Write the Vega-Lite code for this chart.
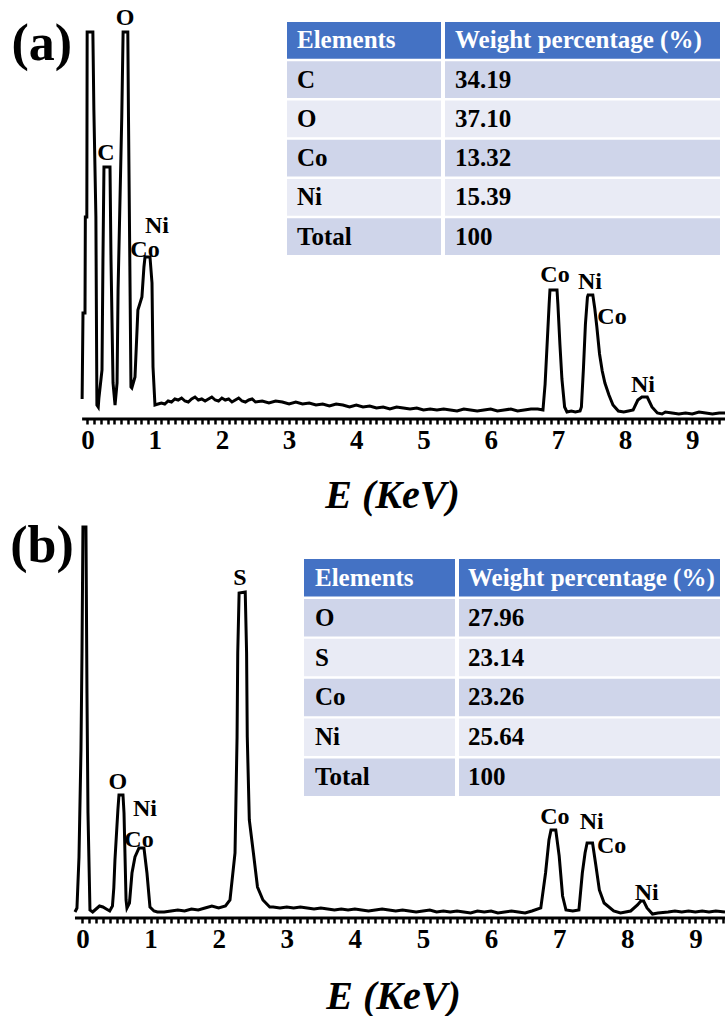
{
"$schema": "https://vega.github.io/schema/vega-lite/v6.json",
"background": "white",
"padding": 0,
"spacing": 3,
"config": {"view": {"stroke": null}, "font": "Liberation Serif"},
"datasets": {
"specA": [{"E":-0.08,"I":20},{"E":-0.067,"I":106},{"E":-0.037,"I":106},{"E":-0.032,"I":202},{"E":-0.01,"I":202},{"E":-0.005,"I":387},{"E":0.08,"I":387},{"E":0.095,"I":309},{"E":0.125,"I":202},{"E":0.14,"I":14},{"E":0.16,"I":12},{"E":0.17,"I":21},{"E":0.216,"I":49},{"E":0.23,"I":159},{"E":0.245,"I":252},{"E":0.335,"I":252},{"E":0.35,"I":159},{"E":0.38,"I":36},{"E":0.41,"I":14},{"E":0.44,"I":36},{"E":0.455,"I":129},{"E":0.51,"I":302},{"E":0.53,"I":387},{"E":0.6,"I":387},{"E":0.61,"I":302},{"E":0.647,"I":32},{"E":0.66,"I":31},{"E":0.707,"I":42},{"E":0.75,"I":109},{"E":0.81,"I":122},{"E":0.84,"I":152},{"E":0.856,"I":162},{"E":0.93,"I":162},{"E":0.96,"I":136},{"E":0.975,"I":52},{"E":1.004,"I":14},{"E":1.05,"I":15},{"E":1.1,"I":16},{"E":1.15,"I":15},{"E":1.2,"I":18},{"E":1.25,"I":17},{"E":1.3,"I":20},{"E":1.35,"I":19},{"E":1.4,"I":21},{"E":1.45,"I":18},{"E":1.5,"I":17},{"E":1.55,"I":20},{"E":1.6,"I":22},{"E":1.65,"I":19},{"E":1.7,"I":20},{"E":1.75,"I":18},{"E":1.8,"I":20},{"E":1.85,"I":22},{"E":1.9,"I":19},{"E":1.95,"I":18},{"E":2.0,"I":21},{"E":2.05,"I":19},{"E":2.1,"I":20},{"E":2.15,"I":17},{"E":2.2,"I":19},{"E":2.25,"I":21},{"E":2.3,"I":18},{"E":2.35,"I":17},{"E":2.4,"I":19},{"E":2.45,"I":20},{"E":2.5,"I":17},{"E":2.6,"I":18},{"E":2.7,"I":16},{"E":2.8,"I":18},{"E":2.9,"I":17},{"E":3.0,"I":15},{"E":3.1,"I":17},{"E":3.2,"I":15},{"E":3.3,"I":16},{"E":3.4,"I":14},{"E":3.5,"I":15},{"E":3.6,"I":13},{"E":3.7,"I":15},{"E":3.8,"I":14},{"E":3.9,"I":12},{"E":4.0,"I":14},{"E":4.1,"I":12},{"E":4.2,"I":13},{"E":4.3,"I":11},{"E":4.4,"I":12},{"E":4.5,"I":10},{"E":4.6,"I":12},{"E":4.7,"I":11},{"E":4.8,"I":10},{"E":4.9,"I":11},{"E":5.0,"I":9},{"E":5.1,"I":10},{"E":5.2,"I":9},{"E":5.3,"I":10},{"E":5.4,"I":9},{"E":5.5,"I":8},{"E":5.6,"I":10},{"E":5.7,"I":9},{"E":5.8,"I":8},{"E":5.9,"I":9},{"E":6.0,"I":10},{"E":6.1,"I":8},{"E":6.2,"I":9},{"E":6.3,"I":10},{"E":6.4,"I":8},{"E":6.5,"I":9},{"E":6.6,"I":10},{"E":6.7,"I":10},{"E":6.778,"I":9},{"E":6.81,"I":35},{"E":6.84,"I":75},{"E":6.87,"I":115},{"E":6.882,"I":129},{"E":6.987,"I":129},{"E":7.0,"I":115},{"E":7.03,"I":75},{"E":7.06,"I":40},{"E":7.1,"I":12},{"E":7.135,"I":7},{"E":7.2,"I":8},{"E":7.26,"I":7},{"E":7.33,"I":8},{"E":7.35,"I":12},{"E":7.38,"I":50},{"E":7.41,"I":95},{"E":7.44,"I":122},{"E":7.45,"I":124},{"E":7.52,"I":124},{"E":7.55,"I":110},{"E":7.58,"I":92},{"E":7.62,"I":65},{"E":7.66,"I":48},{"E":7.7,"I":36},{"E":7.76,"I":24},{"E":7.82,"I":14},{"E":7.9,"I":8},{"E":7.98,"I":7},{"E":8.05,"I":8},{"E":8.12,"I":9},{"E":8.19,"I":19},{"E":8.25,"I":22},{"E":8.33,"I":22},{"E":8.4,"I":12},{"E":8.48,"I":6},{"E":8.55,"I":5},{"E":8.6,"I":7},{"E":8.7,"I":6},{"E":8.8,"I":5},{"E":8.9,"I":6},{"E":9.0,"I":5},{"E":9.1,"I":7},{"E":9.2,"I":6},{"E":9.3,"I":5},{"E":9.4,"I":6},{"E":9.487,"I":6}],
"specB": [{"E":-0.11,"I":6},{"E":-0.081,"I":10},{"E":-0.051,"I":61},{"E":-0.022,"I":168},{"E":-0.007,"I":265},{"E":0.007,"I":391},{"E":0.051,"I":391},{"E":0.066,"I":225},{"E":0.081,"I":105},{"E":0.11,"I":8},{"E":0.15,"I":6},{"E":0.2,"I":9},{"E":0.25,"I":12},{"E":0.3,"I":11},{"E":0.35,"I":9},{"E":0.4,"I":7},{"E":0.44,"I":12},{"E":0.46,"I":30},{"E":0.477,"I":58},{"E":0.52,"I":108},{"E":0.536,"I":123},{"E":0.595,"I":123},{"E":0.61,"I":105},{"E":0.64,"I":18},{"E":0.653,"I":10},{"E":0.69,"I":15},{"E":0.727,"I":45},{"E":0.771,"I":61},{"E":0.83,"I":70},{"E":0.903,"I":70},{"E":0.947,"I":45},{"E":0.991,"I":11},{"E":1.05,"I":7},{"E":1.1,"I":6},{"E":1.2,"I":6},{"E":1.3,"I":7},{"E":1.4,"I":8},{"E":1.5,"I":7},{"E":1.6,"I":9},{"E":1.7,"I":8},{"E":1.8,"I":10},{"E":1.9,"I":12},{"E":2.0,"I":10},{"E":2.1,"I":12},{"E":2.166,"I":18},{"E":2.24,"I":65},{"E":2.27,"I":181},{"E":2.28,"I":265},{"E":2.3,"I":325},{"E":2.39,"I":326},{"E":2.41,"I":265},{"E":2.42,"I":181},{"E":2.45,"I":98},{"E":2.51,"I":65},{"E":2.57,"I":31},{"E":2.65,"I":18},{"E":2.75,"I":11},{"E":2.8,"I":11},{"E":2.9,"I":10},{"E":3.0,"I":11},{"E":3.1,"I":10},{"E":3.2,"I":11},{"E":3.3,"I":10},{"E":3.4,"I":9},{"E":3.5,"I":10},{"E":3.6,"I":9},{"E":3.7,"I":8},{"E":3.8,"I":9},{"E":3.9,"I":8},{"E":4.0,"I":9},{"E":4.1,"I":8},{"E":4.2,"I":7},{"E":4.3,"I":8},{"E":4.4,"I":9},{"E":4.5,"I":8},{"E":4.6,"I":7},{"E":4.7,"I":8},{"E":4.8,"I":7},{"E":4.9,"I":6},{"E":5.0,"I":7},{"E":5.1,"I":8},{"E":5.2,"I":6},{"E":5.3,"I":7},{"E":5.4,"I":6},{"E":5.5,"I":7},{"E":5.6,"I":6},{"E":5.7,"I":5},{"E":5.8,"I":7},{"E":5.9,"I":6},{"E":6.0,"I":7},{"E":6.1,"I":5},{"E":6.2,"I":6},{"E":6.3,"I":7},{"E":6.4,"I":6},{"E":6.5,"I":5},{"E":6.6,"I":7},{"E":6.73,"I":10},{"E":6.8,"I":45},{"E":6.85,"I":78},{"E":6.88,"I":88},{"E":6.95,"I":88},{"E":7.0,"I":62},{"E":7.05,"I":22},{"E":7.1,"I":8},{"E":7.2,"I":7},{"E":7.29,"I":8},{"E":7.34,"I":45},{"E":7.38,"I":65},{"E":7.41,"I":75},{"E":7.49,"I":75},{"E":7.54,"I":52},{"E":7.59,"I":28},{"E":7.66,"I":15},{"E":7.8,"I":7},{"E":7.9,"I":5},{"E":8.05,"I":7},{"E":8.15,"I":13},{"E":8.2,"I":17},{"E":8.24,"I":17},{"E":8.29,"I":10},{"E":8.37,"I":4},{"E":8.45,"I":5},{"E":8.6,"I":6},{"E":8.7,"I":7},{"E":8.8,"I":6},{"E":8.9,"I":7},{"E":9.0,"I":6},{"E":9.1,"I":7},{"E":9.2,"I":6},{"E":9.3,"I":7},{"E":9.435,"I":6}],
"labelsA": [{"E":0.558,"I":401,"label":"O"},{"E":0.275,"I":266,"label":"C"},{"E":1.034,"I":193,"label":"Ni"},{"E":0.856,"I":169,"label":"Co"},{"E":6.957,"I":144,"label":"Co"},{"E":7.478,"I":137,"label":"Ni"},{"E":7.805,"I":102,"label":"Co"},{"E":8.266,"I":34,"label":"Ni"}],
"labelsB": [{"E":2.313,"I":340,"label":"S"},{"E":0.521,"I":136,"label":"O"},{"E":0.918,"I":109,"label":"Ni"},{"E":0.83,"I":78,"label":"Co"},{"E":6.938,"I":101,"label":"Co"},{"E":7.477,"I":96,"label":"Ni"},{"E":7.77,"I":72,"label":"Co"},{"E":8.285,"I":25,"label":"Ni"}],
"tableA": [{"el":"Elements","wt":"Weight percentage (%)"},{"el":"C","wt":"34.19"},{"el":"O","wt":"37.10"},{"el":"Co","wt":"13.32"},{"el":"Ni","wt":"15.39"},{"el":"Total","wt":"100"}],
"tableB": [{"el":"Elements","wt":"Weight percentage (%)"},{"el":"O","wt":"27.96"},{"el":"S","wt":"23.14"},{"el":"Co","wt":"23.26"},{"el":"Ni","wt":"25.64"},{"el":"Total","wt":"100"}]
},
"vconcat": [
{
"width": 725, "height": 419,
"resolve": {"scale": {"x": "independent", "y": "independent", "color": "independent"}},
"layer": [
{"data": {"name": "specA"}, "mark": {"type": "line", "color": "black", "strokeWidth": 3},
 "encoding": {
  "x": {"field": "E", "type": "quantitative", "scale": {"domain": [-1.302, 9.487], "nice": false, "zero": false},
   "axis": {"orient": "bottom", "values": [0,0.1,0.2,0.3,0.4,0.5,0.6,0.7,0.8,0.9,1,1.1,1.2,1.3,1.4,1.5,1.6,1.7,1.8,1.9,2,2.1,2.2,2.3,2.4,2.5,2.6,2.7,2.8,2.9,3,3.1,3.2,3.3,3.4,3.5,3.6,3.7,3.8,3.9,4,4.1,4.2,4.3,4.4,4.5,4.6,4.7,4.8,4.9,5,5.1,5.2,5.3,5.4,5.5,5.6,5.7,5.8,5.9,6,6.1,6.2,6.3,6.4,6.5,6.6,6.7,6.8,6.9,7,7.1,7.2,7.3,7.4,7.5,7.6,7.7,7.8,7.9,8,8.1,8.2,8.3,8.4,8.5,8.6,8.7,8.8,8.9,9,9.1,9.2,9.3,9.4],
    "domain": false, "grid": false, "ticks": true, "tickSize": 5, "tickWidth": 2.5, "tickColor": "black",
    "labelExpr": "abs(datum.value - round(datum.value)) < 0.001 ? format(datum.value, 'd') : ''",
    "labelFont": "Liberation Serif", "labelFontSize": 27, "labelFontWeight": "bold", "labelColor": "black", "labelPadding": 3, "labelFlush": false, "labelOverlap": false, "labelBound": false,
    "title": "E (KeV)", "titleFont": "Liberation Serif", "titleFontSize": 40, "titleFontStyle": "italic", "titleFontWeight": "bold", "titleColor": "black", "titleX": 392, "titleY": 76, "titleBaseline": "middle", "titleAlign": "center"}},
  "y": {"field": "I", "type": "quantitative", "scale": {"domain": [0, 419], "nice": false, "zero": false}, "axis": null}
 }},
{"data": {"values": [{}]}, "mark": {"type": "rule", "color": "black", "strokeWidth": 3},
 "encoding": {"x": {"datum": -0.08, "type": "quantitative", "scale": {"domain": [-1.302, 9.487], "nice": false, "zero": false}, "axis": null}, "x2": {"datum": 9.487}, "y": {"datum": 0, "type": "quantitative", "scale": {"domain": [0, 419], "nice": false, "zero": false}, "axis": null}}},
{"data": {"name": "labelsA"}, "mark": {"type": "text", "fontSize": 24, "fontWeight": "bold", "font": "Liberation Serif", "color": "black", "baseline": "middle"},
 "encoding": {"x": {"field": "E", "type": "quantitative", "scale": {"domain": [-1.302, 9.487], "nice": false, "zero": false}, "axis": null}, "y": {"field": "I", "type": "quantitative", "scale": {"domain": [0, 419], "nice": false, "zero": false}, "axis": null}, "text": {"field": "label"}}},
{"data": {"values": [{}]}, "mark": {"type": "text", "text": "(a)", "fontSize": 52, "fontWeight": "bold", "font": "Liberation Serif", "color": "black", "baseline": "middle"},
 "encoding": {"x": {"datum": -0.68, "type": "quantitative", "scale": {"domain": [-1.302, 9.487], "nice": false, "zero": false}, "axis": null}, "y": {"datum": 375, "type": "quantitative", "scale": {"domain": [0, 419], "nice": false, "zero": false}, "axis": null}}},
{
"data": {"name": "tableA"},
"encoding": {"y": {"field": "el", "type": "nominal", "sort": null, "scale": {"type": "band", "domain": ["Elements","C","O","Co","Ni","Total"], "range": [22, 255], "paddingInner": 0.06, "paddingOuter": 0}, "axis": null}},
"layer": [
{"mark": {"type": "rect"}, "encoding": {"x": {"datum": 0, "type": "quantitative", "scale": {"domain": [0, 1], "range": [287, 441]}, "axis": null}, "x2": {"datum": 1}, "color": {"field": "el", "type": "nominal", "scale": {"domain": ["Elements","C","O","Co","Ni","Total"], "range": ["#4472C4","#CFD5EA","#E9EBF5","#CFD5EA","#E9EBF5","#CFD5EA"]}, "legend": null}}},
{"mark": {"type": "text", "align": "left", "dx": 10, "fontSize": 25, "fontWeight": "bold", "font": "Liberation Serif", "baseline": "middle"}, "encoding": {"x": {"datum": 0, "type": "quantitative", "axis": null}, "text": {"field": "el"}, "color": {"condition": {"test": "datum.el === 'Elements'", "value": "white"}, "value": "black"}}}
]
},
{
"data": {"name": "tableA"},
"encoding": {"y": {"field": "el", "type": "nominal", "sort": null, "scale": {"type": "band", "domain": ["Elements","C","O","Co","Ni","Total"], "range": [22, 255], "paddingInner": 0.06, "paddingOuter": 0}, "axis": null}},
"layer": [
{"mark": {"type": "rect"}, "encoding": {"x": {"datum": 0, "type": "quantitative", "scale": {"domain": [0, 1], "range": [445, 720]}, "axis": null}, "x2": {"datum": 1}, "color": {"field": "el", "type": "nominal", "scale": {"domain": ["Elements","C","O","Co","Ni","Total"], "range": ["#4472C4","#CFD5EA","#E9EBF5","#CFD5EA","#E9EBF5","#CFD5EA"]}, "legend": null}}},
{"mark": {"type": "text", "align": "left", "dx": 10, "fontSize": 25, "fontWeight": "bold", "font": "Liberation Serif", "baseline": "middle"}, "encoding": {"x": {"datum": 0, "type": "quantitative", "axis": null}, "text": {"field": "wt"}, "color": {"condition": {"test": "datum.el === 'Elements'", "value": "white"}, "value": "black"}}}
]
}
]
},
{
"width": 725, "height": 400,
"resolve": {"scale": {"x": "independent", "y": "independent", "color": "independent"}},
"layer": [
{"data": {"name": "specB"}, "mark": {"type": "line", "color": "black", "strokeWidth": 3},
 "encoding": {
  "x": {"field": "E", "type": "quantitative", "scale": {"domain": [-1.211, 9.435], "nice": false, "zero": false},
   "axis": {"orient": "bottom", "values": [0,0.1,0.2,0.3,0.4,0.5,0.6,0.7,0.8,0.9,1,1.1,1.2,1.3,1.4,1.5,1.6,1.7,1.8,1.9,2,2.1,2.2,2.3,2.4,2.5,2.6,2.7,2.8,2.9,3,3.1,3.2,3.3,3.4,3.5,3.6,3.7,3.8,3.9,4,4.1,4.2,4.3,4.4,4.5,4.6,4.7,4.8,4.9,5,5.1,5.2,5.3,5.4,5.5,5.6,5.7,5.8,5.9,6,6.1,6.2,6.3,6.4,6.5,6.6,6.7,6.8,6.9,7,7.1,7.2,7.3,7.4,7.5,7.6,7.7,7.8,7.9,8,8.1,8.2,8.3,8.4,8.5,8.6,8.7,8.8,8.9,9,9.1,9.2,9.3,9.4],
    "domain": false, "grid": false, "ticks": true, "tickSize": 5, "tickWidth": 2.5, "tickColor": "black",
    "labelExpr": "abs(datum.value - round(datum.value)) < 0.001 ? format(datum.value, 'd') : ''",
    "labelFont": "Liberation Serif", "labelFontSize": 27, "labelFontWeight": "bold", "labelColor": "black", "labelPadding": 3, "labelFlush": false, "labelOverlap": false, "labelBound": false,
    "title": "E (KeV)", "titleFont": "Liberation Serif", "titleFontSize": 40, "titleFontStyle": "italic", "titleFontWeight": "bold", "titleColor": "black", "titleX": 393, "titleY": 78, "titleBaseline": "middle", "titleAlign": "center"}},
  "y": {"field": "I", "type": "quantitative", "scale": {"domain": [0, 400], "nice": false, "zero": false}, "axis": null}
 }},
{"data": {"values": [{}]}, "mark": {"type": "rule", "color": "black", "strokeWidth": 3},
 "encoding": {"x": {"datum": -0.11, "type": "quantitative", "scale": {"domain": [-1.211, 9.435], "nice": false, "zero": false}, "axis": null}, "x2": {"datum": 9.435}, "y": {"datum": 0, "type": "quantitative", "scale": {"domain": [0, 400], "nice": false, "zero": false}, "axis": null}}},
{"data": {"name": "labelsB"}, "mark": {"type": "text", "fontSize": 24, "fontWeight": "bold", "font": "Liberation Serif", "color": "black", "baseline": "middle"},
 "encoding": {"x": {"field": "E", "type": "quantitative", "scale": {"domain": [-1.211, 9.435], "nice": false, "zero": false}, "axis": null}, "y": {"field": "I", "type": "quantitative", "scale": {"domain": [0, 400], "nice": false, "zero": false}, "axis": null}, "text": {"field": "label"}}},
{"data": {"values": [{}]}, "mark": {"type": "text", "text": "(b)", "fontSize": 52, "fontWeight": "bold", "font": "Liberation Serif", "color": "black", "baseline": "middle"},
 "encoding": {"x": {"datum": -0.595, "type": "quantitative", "scale": {"domain": [-1.211, 9.435], "nice": false, "zero": false}, "axis": null}, "y": {"datum": 372, "type": "quantitative", "scale": {"domain": [0, 400], "nice": false, "zero": false}, "axis": null}}},
{
"data": {"name": "tableB"},
"encoding": {"y": {"field": "el", "type": "nominal", "sort": null, "scale": {"type": "band", "domain": ["Elements","O","S","Co","Ni","Total"], "range": [41, 278], "paddingInner": 0.06, "paddingOuter": 0}, "axis": null}},
"layer": [
{"mark": {"type": "rect"}, "encoding": {"x": {"datum": 0, "type": "quantitative", "scale": {"domain": [0, 1], "range": [304, 455]}, "axis": null}, "x2": {"datum": 1}, "color": {"field": "el", "type": "nominal", "scale": {"domain": ["Elements","O","S","Co","Ni","Total"], "range": ["#4472C4","#CFD5EA","#E9EBF5","#CFD5EA","#E9EBF5","#CFD5EA"]}, "legend": null}}},
{"mark": {"type": "text", "align": "left", "dx": 11, "fontSize": 25, "fontWeight": "bold", "font": "Liberation Serif", "baseline": "middle"}, "encoding": {"x": {"datum": 0, "type": "quantitative", "axis": null}, "text": {"field": "el"}, "color": {"condition": {"test": "datum.el === 'Elements'", "value": "white"}, "value": "black"}}}
]
},
{
"data": {"name": "tableB"},
"encoding": {"y": {"field": "el", "type": "nominal", "sort": null, "scale": {"type": "band", "domain": ["Elements","O","S","Co","Ni","Total"], "range": [41, 278], "paddingInner": 0.06, "paddingOuter": 0}, "axis": null}},
"layer": [
{"mark": {"type": "rect"}, "encoding": {"x": {"datum": 0, "type": "quantitative", "scale": {"domain": [0, 1], "range": [459, 720]}, "axis": null}, "x2": {"datum": 1}, "color": {"field": "el", "type": "nominal", "scale": {"domain": ["Elements","O","S","Co","Ni","Total"], "range": ["#4472C4","#CFD5EA","#E9EBF5","#CFD5EA","#E9EBF5","#CFD5EA"]}, "legend": null}}},
{"mark": {"type": "text", "align": "left", "dx": 9, "fontSize": 25, "fontWeight": "bold", "font": "Liberation Serif", "baseline": "middle"}, "encoding": {"x": {"datum": 0, "type": "quantitative", "axis": null}, "text": {"field": "wt"}, "color": {"condition": {"test": "datum.el === 'Elements'", "value": "white"}, "value": "black"}}}
]
}
]
}
]
}
